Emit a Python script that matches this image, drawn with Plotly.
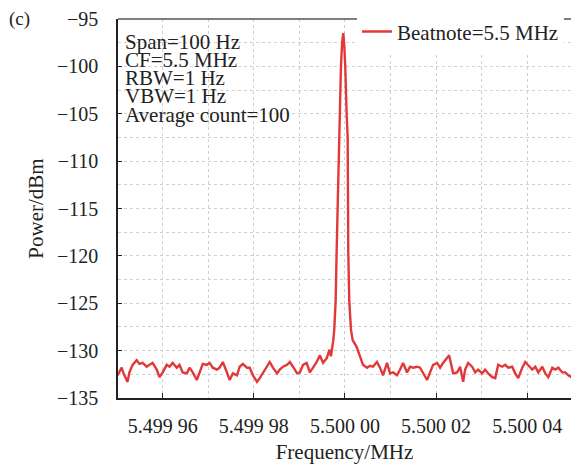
import plotly.graph_objects as go

# Beat-note spectrum around 5.5 MHz (offset from centre in Hz, power in dBm)
CENTER_MHZ = 5.5
offset_hz = [
    -49.9, -49.0, -48.6, -47.7, -47.3, -46.6, -45.7, -45.1, -44.4, -43.5,
    -42.9, -42.2, -41.3, -40.7, -40.0, -39.1, -38.5, -37.8, -36.9, -36.3,
    -35.6, -34.7, -34.1, -33.4, -32.5, -31.9, -31.2, -30.3, -29.7, -29.0,
    -28.1, -27.5, -26.8, -25.9, -25.3, -24.6, -23.7, -23.1, -22.4, -21.5,
    -20.9, -20.2, -19.3, -18.7, -18.0, -17.1, -16.5, -15.8, -14.9, -14.3,
    -13.6, -12.7, -12.1, -11.4, -10.5, -9.9, -9.2, -8.4, -7.7, -7.0,
    -6.2, -5.5, -4.8, -4.0, -3.4, -3.08, -2.75, -2.56, -2.35, -2.19,
    -2.04, -1.82, -1.55, -1.32, -1.10, -0.88, -0.62, -0.37, -0.15, 0.07,
    0.37, 0.59, 0.66, 0.72, 0.94, 1.10, 1.32, 1.69, 2.56, 3.30,
    3.96, 4.84, 5.49, 6.15, 7.03, 7.69,
    8.35, 9.23, 9.89, 10.55, 11.43, 12.09, 12.75, 13.63, 14.29, 14.95,
    15.82, 16.48, 17.14, 18.02, 18.68, 19.34, 20.22, 20.88, 21.54, 22.42,
    22.86, 23.74, 24.62, 25.27, 25.93, 26.37, 27.03, 27.91, 28.57, 29.23,
    30.11, 30.77, 31.43, 32.31, 32.97, 33.63, 34.51, 35.16, 35.82, 36.70,
    37.36, 38.02, 38.90, 39.56, 40.22, 41.10, 41.76, 42.42, 43.30, 43.96,
    44.62, 45.49, 46.15, 46.81, 47.69, 48.35, 49.01, 49.67,
]
power_dbm = [
    -132.6, -131.8, -132.4, -133.3, -132.3, -131.5, -131.0, -131.4, -131.3, -131.7,
    -131.5, -131.3, -132.0, -132.8, -132.3, -131.5, -131.7, -131.3, -131.8, -131.5,
    -132.3, -132.4, -131.8, -132.3, -133.1, -132.3, -131.4, -131.5, -131.3, -131.8,
    -132.0, -131.8, -131.2, -132.3, -133.1, -132.4, -132.6, -131.7, -131.4, -131.8,
    -131.8, -132.6, -133.3, -132.9, -132.4, -131.7, -131.2, -131.8, -132.4, -132.0,
    -131.7, -131.5, -131.2, -131.7, -132.4, -132.3, -131.5, -131.3, -132.3, -131.8,
    -131.2, -130.5, -131.3, -130.8, -129.9, -130.6, -129.6, -128.9, -127.8, -126.4,
    -124.7, -119.4, -113.0, -107.4, -105.0, -100.0, -97.5, -96.5, -97.8, -100.0,
    -105.0, -107.4, -113.0, -119.4, -124.7, -126.4, -127.8, -128.9, -129.6, -130.6,
    -131.5, -131.8, -131.6, -131.7, -131.2, -131.8,
    -132.6, -131.3, -132.4, -132.3, -132.6, -132.0, -131.3, -132.3, -131.7, -131.8,
    -131.7, -131.8, -132.4, -133.1, -132.3, -131.5, -131.3, -131.8, -131.3, -130.8,
    -130.5, -132.4, -132.3, -131.7, -133.3, -132.0, -131.3, -131.7, -132.3, -132.0,
    -132.4, -132.0, -132.4, -132.8, -132.9, -131.5, -131.7, -131.5, -131.8, -131.7,
    -132.4, -132.9, -131.8, -131.2, -131.5, -132.0, -131.7, -132.3, -131.7, -132.4,
    -132.8, -131.8, -132.0, -131.8, -132.3, -132.3, -132.6, -132.8,
]

x_tick_vals = [5.49996, 5.49998, 5.50000, 5.50002, 5.50004]
x_tick_text = ["5.499 96", "5.499 98", "5.500 00", "5.500 02", "5.500 04"]
y_tick_vals = [-135, -130, -125, -120, -115, -110, -105, -100, -95]

settings_lines = ["Span=100 Hz", "CF=5.5 MHz", "RBW=1 Hz", "VBW=1 Hz", "Average count=100"]

freq_mhz = [CENTER_MHZ + d * 1e-6 for d in offset_hz]

FONT = "Liberation Serif"
INK = "#222222"
GRID = "#d0d0d0"

fig = go.Figure()
fig.add_trace(go.Scatter(
    x=freq_mhz, y=power_dbm, mode="lines", name="Beatnote=5.5 MHz",
    line=dict(color="#e2383a", width=2.4),
))

fig.update_layout(
    width=571, height=464,
    margin=dict(l=118, r=0, t=19, b=66),
    paper_bgcolor="white", plot_bgcolor="white",
    font=dict(family=FONT, size=20, color=INK),
    showlegend=True,
    legend=dict(
        x=0.5276, y=1.02, xanchor="left", yanchor="top",
        bgcolor="white", borderwidth=0,
        font=dict(family=FONT, size=21, color=INK),
        itemwidth=30, tracegroupgap=0,
    ),
    xaxis=dict(
        range=[CENTER_MHZ - 49.8e-6, CENTER_MHZ + 49.6e-6],
        tickvals=x_tick_vals, ticktext=x_tick_text,
        ticks="inside", ticklen=5, tickcolor=INK, tickwidth=1.2,
        showline=True, linecolor=INK, linewidth=1.5, mirror=False,
        showgrid=True, gridcolor=GRID, griddash="dot", gridwidth=1,
        minor=dict(dtick=1e-5, showgrid=True, gridcolor=GRID, griddash="dot"),
        ticklabelstandoff=9,
        title=dict(text="Frequency/MHz", font=dict(size=21), standoff=14),
        zeroline=False,
    ),
    yaxis=dict(
        range=[-135, -95],
        tickvals=y_tick_vals,
        ticks="inside", ticklen=4, tickcolor=INK, tickwidth=1.2,
        showline=True, linecolor=INK, linewidth=1.5, mirror=False,
        showgrid=True, gridcolor=GRID, griddash="dot", gridwidth=1,
        minor=dict(dtick=2.5, showgrid=True, gridcolor=GRID, griddash="dot"),
        ticklabelstandoff=14,
        title=dict(text="Power/dBm", font=dict(size=21), standoff=8),
        zeroline=False,
    ),
)

# top frame line
fig.add_shape(type="line", xref="paper", yref="paper", x0=0, x1=1, y0=1, y1=1,
              line=dict(color="#555555", width=1.5), layer="above")

# white panel behind the instrument settings
fig.add_shape(type="rect", xref="paper", yref="paper", x0=0.003, x1=0.385, y0=0.69, y1=0.996,
              fillcolor="white", line=dict(width=0), layer="between")

for i, line in enumerate(settings_lines):
    fig.add_annotation(
        xref="paper", yref="paper", x=0.012, y=1 - (22.5 + 18.3 * i) / 379,
        xanchor="left", yanchor="middle", text=line, showarrow=False,
        font=dict(family=FONT, size=21, color=INK),
    )

fig.add_annotation(
    xref="paper", yref="paper", x=-0.245, y=1.0, xanchor="left", yanchor="middle",
    text="(c)", showarrow=False, font=dict(family=FONT, size=19, color=INK),
)

fig.write_html("out.html")
